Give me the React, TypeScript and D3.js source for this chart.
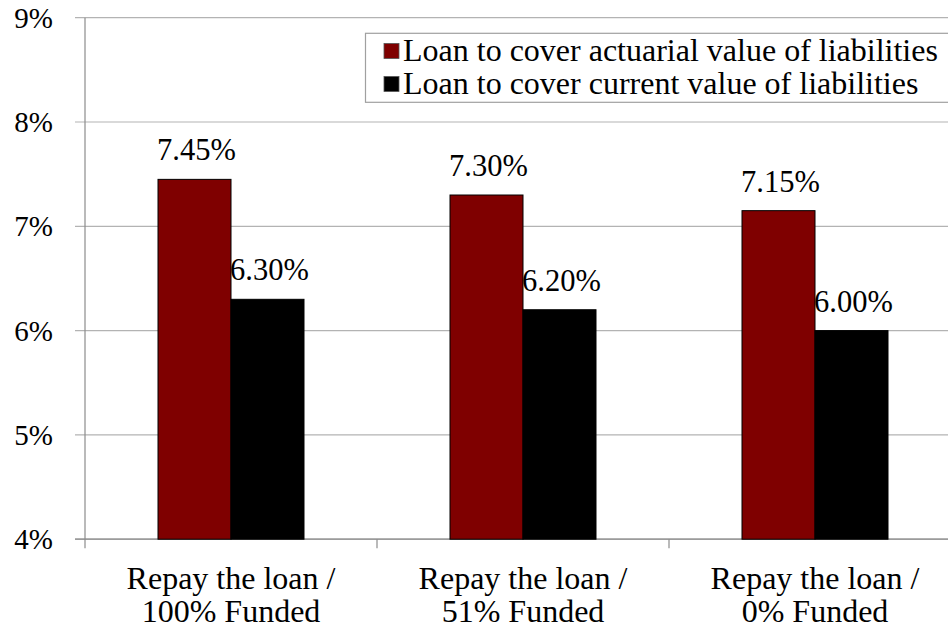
import React from "react";
import * as d3 from "d3";

const categories = ["Repay the loan / 100% Funded", "Repay the loan / 51% Funded", "Repay the loan / 0% Funded"];
const categoryLines = [
  ["Repay the loan /", "100% Funded"],
  ["Repay the loan /", "51% Funded"],
  ["Repay the loan /", "0% Funded"],
];
const seriesNames = ["Loan to cover actuarial value of liabilities", "Loan to cover current value of liabilities"];
const actuarialValues = [7.45, 7.3, 7.15];
const currentValues = [6.3, 6.2, 6.0];
const seriesColors = ["#7f0000", "#000000"];
const yTicks = [4, 5, 6, 7, 8, 9];

const W = 948;
const H = 630;
const FONT = "'Liberation Serif', 'Times New Roman', serif";

export default function App() {
  const left = 85;
  const right = 961;
  const top = 17.7;
  const bottom = 539.2;
  const y = d3.scaleLinear().domain([4, 9]).range([bottom, top]);
  const x0 = d3.scaleBand<string>().domain(categories).range([left, right]).paddingInner(0).paddingOuter(0);
  const x1 = d3
    .scaleBand<string>()
    .domain(seriesNames)
    .range([0, x0.bandwidth()])
    .paddingInner(0)
    .paddingOuter(1);
  const seriesValues = [actuarialValues, currentValues];
  const fmt = (v: number) => v.toFixed(2) + "%";

  return (
    <div style={{ position: "absolute", left: 0, top: 0 }}>
      <svg width={W} height={H} style={{ display: "block", background: "#fff" }} fontFamily={FONT}>
        {/* gridlines */}
        {yTicks.map((t) => (
          <line key={"g" + t} x1={left - 10} x2={right} y1={y(t)} y2={y(t)} stroke="#b3b3b3" strokeWidth={1.2} />
        ))}
        {/* y axis */}
        <line x1={left} x2={left} y1={top} y2={bottom} stroke="#8c8c8c" strokeWidth={1.2} />
        {yTicks.map((t) => (
          <text key={"t" + t} x={53} y={y(t) + 10} textAnchor="end" fontSize={29} fill="#000">
            {t + "%"}
          </text>
        ))}
        {/* x axis */}
        <line x1={left - 10} x2={right} y1={bottom} y2={bottom} stroke="#8c8c8c" strokeWidth={1.2} />
        {[...categories.map((c) => x0(c) as number), right].map((xv, i) => (
          <line key={"xt" + i} x1={xv} x2={xv} y1={bottom} y2={bottom + 9} stroke="#8c8c8c" strokeWidth={1.2} />
        ))}
        {/* bars */}
        {categories.map((c, ci) =>
          seriesNames.map((s, si) => {
            const v = seriesValues[si][ci];
            const bx = (x0(c) as number) + (x1(s) as number);
            const bw = x1.bandwidth();
            return (
              <g key={c + s}>
                <rect x={bx} y={y(v)} width={bw} height={bottom - y(v)} fill={seriesColors[si]} stroke="#000" strokeWidth={1} />
                <text x={bx + bw / 2 + 2} y={y(v) - 19} textAnchor="middle" fontSize={30.5} fill="#000">
                  {fmt(v)}
                </text>
              </g>
            );
          })
        )}
        {/* category labels */}
        {categories.map((c, ci) => {
          const cx = (x0(c) as number) + x0.bandwidth() / 2;
          return (
            <text key={"c" + c} x={cx} textAnchor="middle" fontSize={32} fill="#000">
              <tspan x={cx} y={589}>
                {categoryLines[ci][0]}
              </tspan>
              <tspan x={cx} y={622}>
                {categoryLines[ci][1]}
              </tspan>
            </text>
          );
        })}
        {/* legend */}
        <rect x={365.5} y={33.3} width={620} height={69} fill="#fff" stroke="#a0a0a0" strokeWidth={1.2} />
        {seriesNames.map((s, si) => (
          <g key={"l" + s}>
            <rect x={384} y={43.5 + si * 33} width={15} height={15} fill={seriesColors[si]} stroke="#555" strokeWidth={0.8} />
            <text x={403} y={61 + si * 33} fontSize={32} fill="#000">
              {s}
            </text>
          </g>
        ))}
      </svg>
    </div>
  );
}
